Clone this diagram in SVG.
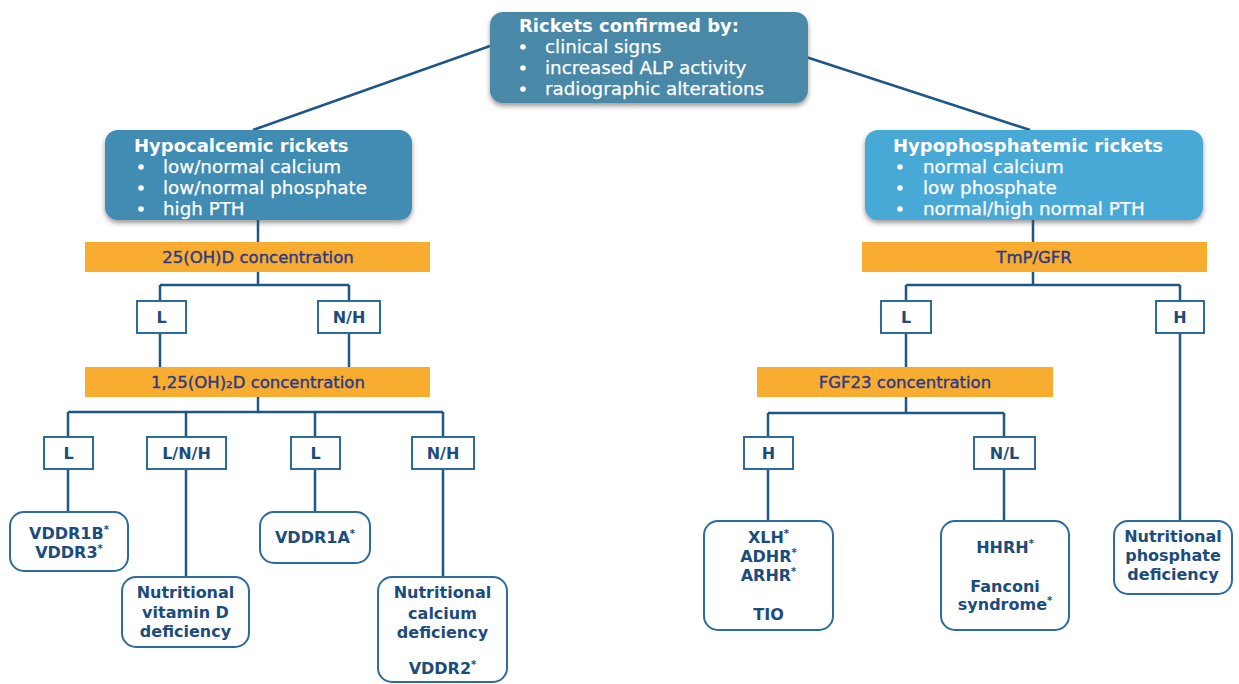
<svg xmlns="http://www.w3.org/2000/svg" width="1239" height="684" viewBox="0 0 1239 684">
<defs>
<filter id="sh" x="-10%" y="-10%" width="120%" height="140%">
<feDropShadow dx="0" dy="3" stdDeviation="2.5" flood-color="#4a4a4a" flood-opacity="0.55"/>
</filter>
<style>
.big{filter:url(#sh)}
.ttl{font-family:"DejaVu Sans",sans-serif;font-weight:bold;font-size:18px;fill:#ffffff}
.bl{font-family:"DejaVu Sans",sans-serif;font-size:18.3px;fill:#ffffff;stroke:#ffffff;stroke-width:0.25}
.dot{fill:#ffffff}
.or{fill:#f8ac30}
.ot{font-family:"DejaVu Sans",sans-serif;font-size:16.5px;fill:#2b3a8a;stroke:#2b3a8a;stroke-width:0.4;text-anchor:middle}
.lab{fill:#ffffff;stroke:#2d6b9c;stroke-width:2}
.lt{font-family:"DejaVu Sans",sans-serif;font-weight:bold;font-size:16px;fill:#1c4c7c;text-anchor:middle}
.leaf{fill:#ffffff;stroke:#2d6b9c;stroke-width:2}
.ft{font-family:"DejaVu Sans",sans-serif;font-weight:bold;font-size:16px;fill:#1c4c7c;text-anchor:middle}
.ast{font-size:10px}
.cn{fill:none;stroke:#1f5688;stroke-width:2.5}
</style>
</defs>
<rect width="1239" height="684" fill="#ffffff"/>

<g id="connectors">
<path class="cn" d="M490 46 L253 130"/>
<path class="cn" d="M806 57 L1030 130"/>
<path class="cn" d="M258 220 V242 M258 272 V285 M160 285 H349 M160 285 V367 M349 285 V367"/>
<path class="cn" d="M258 397 V412 M68 412 H443 M68 412 V512 M186 412 V577 M315 412 V512 M443 412 V577"/>
<path class="cn" d="M1033 220 V242 M1033 272 V285 M906 285 H1180 M906 285 V367 M1180 285 V521"/>
<path class="cn" d="M906 397 V413 M768 413 H1004 M768 413 V521 M1004 413 V521"/>
</g>

<g id="root">
<rect class="big" x="490" y="12" width="318" height="91" rx="13" fill="#4a88a7"/>
<text class="ttl" x="519" y="32">Rickets confirmed by:</text>
<circle class="dot" cx="523" cy="47" r="2.8"/>
<circle class="dot" cx="523" cy="68" r="2.8"/>
<circle class="dot" cx="523" cy="89" r="2.8"/>
<text class="bl" x="545" y="53">clinical signs</text>
<text class="bl" x="545" y="74">increased ALP activity</text>
<text class="bl" x="545" y="95">radiographic alterations</text>
</g>

<g id="hypocalcemic">
<rect class="big" x="105" y="130" width="307" height="90" rx="13" fill="#3f8cb2"/>
<text class="ttl" x="134" y="152">Hypocalcemic rickets</text>
<circle class="dot" cx="141" cy="167" r="2.8"/>
<circle class="dot" cx="141" cy="188" r="2.8"/>
<circle class="dot" cx="141" cy="209" r="2.8"/>
<text class="bl" x="163" y="173">low/normal calcium</text>
<text class="bl" x="163" y="194">low/normal phosphate</text>
<text class="bl" x="163" y="215">high PTH</text>
</g>

<g id="hypophosphatemic">
<rect class="big" x="865" y="130" width="338" height="90" rx="13" fill="#4aa9d6"/>
<text class="ttl" x="893" y="152">Hypophosphatemic rickets</text>
<circle class="dot" cx="900" cy="167" r="2.8"/>
<circle class="dot" cx="900" cy="188" r="2.8"/>
<circle class="dot" cx="900" cy="209" r="2.8"/>
<text class="bl" x="923" y="173">normal calcium</text>
<text class="bl" x="923" y="194">low phosphate</text>
<text class="bl" x="923" y="215">normal/high normal PTH</text>
</g>

<g id="oh25d">
<rect class="or" x="85" y="242" width="345" height="30"/>
<text class="ot" x="258" y="263">25(OH)D concentration</text>
</g>
<g id="tmp">
<rect class="or" x="862" y="242" width="345" height="30"/>
<text class="ot" x="1034" y="263">TmP/GFR</text>
</g>

<g id="lab-l1"><rect class="lab" x="137" y="301" width="49" height="32"/><text class="lt" x="161.5" y="323">L</text></g>
<g id="lab-nh1"><rect class="lab" x="318" y="301" width="62" height="32"/><text class="lt" x="349" y="323">N/H</text></g>
<g id="lab-l2"><rect class="lab" x="881" y="301" width="50" height="32"/><text class="lt" x="906" y="323">L</text></g>
<g id="lab-h2"><rect class="lab" x="1156" y="301" width="48" height="32"/><text class="lt" x="1180" y="323">H</text></g>

<g id="oh2d">
<rect class="or" x="85" y="367" width="345" height="30"/>
<text class="ot" x="258" y="388">1,25(OH)₂D concentration</text>
</g>
<g id="fgf23">
<rect class="or" x="757" y="367" width="296" height="30"/>
<text class="ot" x="905" y="388">FGF23 concentration</text>
</g>

<g id="lab-l3"><rect class="lab" x="44" y="437" width="49" height="32"/><text class="lt" x="68.5" y="459">L</text></g>
<g id="lab-lnh"><rect class="lab" x="147" y="437" width="79" height="32"/><text class="lt" x="186.5" y="459">L/N/H</text></g>
<g id="lab-l4"><rect class="lab" x="291" y="437" width="49" height="32"/><text class="lt" x="315.5" y="459">L</text></g>
<g id="lab-nh2"><rect class="lab" x="412" y="437" width="62" height="32"/><text class="lt" x="443" y="459">N/H</text></g>
<g id="lab-h3"><rect class="lab" x="744" y="437" width="49" height="32"/><text class="lt" x="768.5" y="459">H</text></g>
<g id="lab-nl"><rect class="lab" x="974" y="437" width="61" height="32"/><text class="lt" x="1004.5" y="459">N/L</text></g>

<g id="vddr1b">
<rect class="leaf" x="10" y="512" width="118" height="59" rx="14"/>
<text class="ft" x="69" y="539">VDDR1B<tspan class="ast" dy="-6">*</tspan></text>
<text class="ft" x="69" y="558">VDDR3<tspan class="ast" dy="-6">*</tspan></text>
</g>
<g id="nutvitd">
<rect class="leaf" x="122" y="577" width="127" height="70" rx="14"/>
<text class="ft" x="185.5" y="598">Nutritional</text>
<text class="ft" x="185.5" y="618">vitamin D</text>
<text class="ft" x="185.5" y="637">deficiency</text>
</g>
<g id="vddr1a">
<rect class="leaf" x="260" y="512" width="110" height="51" rx="14"/>
<text class="ft" x="315" y="543">VDDR1A<tspan class="ast" dy="-6">*</tspan></text>
</g>
<g id="nutca">
<rect class="leaf" x="378" y="577" width="129" height="105" rx="14"/>
<text class="ft" x="442.5" y="598">Nutritional</text>
<text class="ft" x="442.5" y="619">calcium</text>
<text class="ft" x="442.5" y="638">deficiency</text>
<text class="ft" x="442.5" y="674">VDDR2<tspan class="ast" dy="-6">*</tspan></text>
</g>
<g id="xlh">
<rect class="leaf" x="704" y="521" width="129" height="109" rx="14"/>
<text class="ft" x="768.5" y="543">XLH<tspan class="ast" dy="-6">*</tspan></text>
<text class="ft" x="768.5" y="562">ADHR<tspan class="ast" dy="-6">*</tspan></text>
<text class="ft" x="768.5" y="581">ARHR<tspan class="ast" dy="-6">*</tspan></text>
<text class="ft" x="768.5" y="620">TIO</text>
</g>
<g id="hhrh">
<rect class="leaf" x="941" y="521" width="128" height="109" rx="14"/>
<text class="ft" x="1005" y="553">HHRH<tspan class="ast" dy="-6">*</tspan></text>
<text class="ft" x="1005" y="592">Fanconi</text>
<text class="ft" x="1005" y="610">syndrome<tspan class="ast" dy="-6">*</tspan></text>
</g>
<g id="nutphos">
<rect class="leaf" x="1114" y="521" width="118" height="73" rx="14"/>
<text class="ft" x="1173" y="542">Nutritional</text>
<text class="ft" x="1173" y="561">phosphate</text>
<text class="ft" x="1173" y="580">deficiency</text>
</g>
</svg>
